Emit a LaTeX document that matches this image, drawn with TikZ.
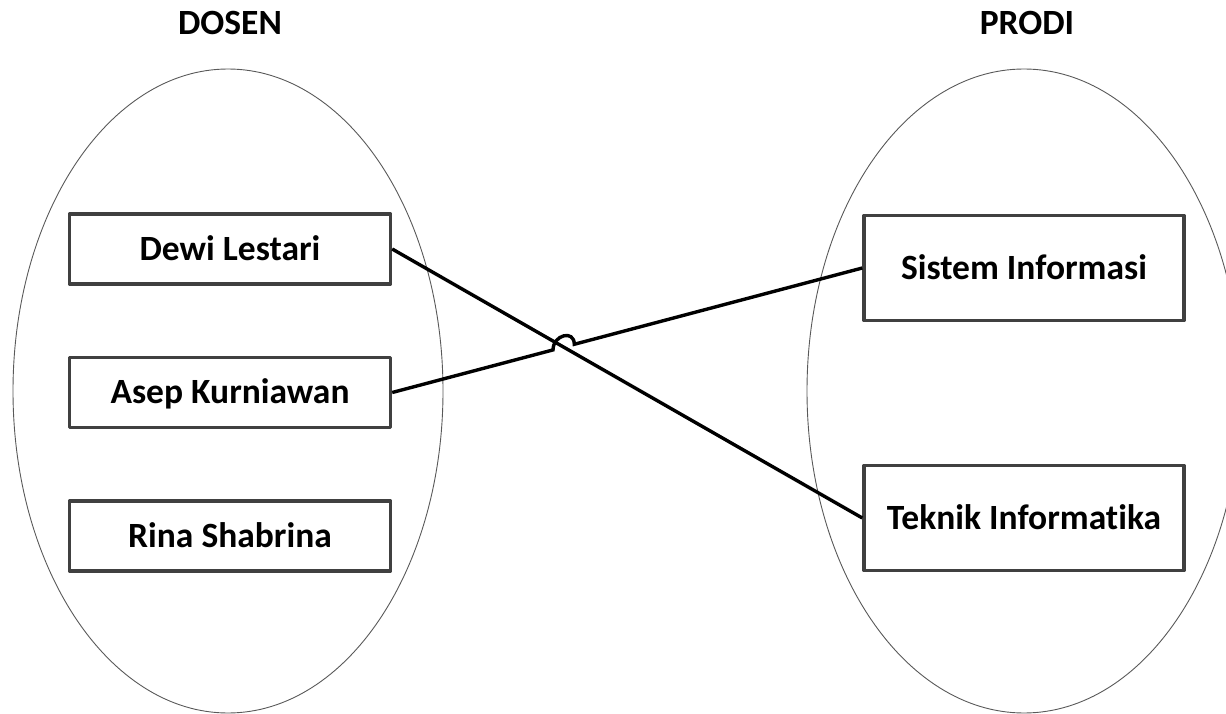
\documentclass[tikz,border=0pt]{standalone}
\usepackage{fontspec}
\setmainfont{Carlito}[Ligatures={NoCommon}]
\usetikzlibrary{calc}
\begin{document}
\begin{tikzpicture}[x=1pt,y=-1pt,
  setellipse/.style={draw=black!65, line width=0.9pt},
  item/.style={draw=black!75, line width=3.4pt, line join=round, fill=white,
    minimum width=321pt, minimum height=70pt, inner sep=0pt,
    text height=22.5pt, text depth=0pt,
    font=\fontsize{35.5}{42}\selectfont\bfseries},
  title/.style={inner sep=0pt, font=\fontsize{35.5}{42}\selectfont\bfseries},
  link/.style={black, line width=3.4pt}]
\useasboundingbox (0,0) rectangle (1226,714);

% the two sets
\draw[setellipse] (228,391) ellipse [x radius=215, y radius=322];
\draw[setellipse] (1024,391) ellipse [x radius=217, y radius=322];

% set titles
\node[title] (dosen) at (230,23) {DOSEN};
\node[title] (prodi) at (1027,23) {PRODI};

% members of DOSEN
\node[item] (dl) at (230,249) {Dewi Lestari};
\node[item] (ak) at (230,392.5) {Asep Kurniawan};
\node[item] (rs) at (230,536) {Rina Shabrina};

% members of PRODI
\node[item, minimum width=320pt, minimum height=105pt] (si) at (1024,268) {Sistem Informasi};
\node[item, minimum width=320pt, minimum height=105pt] (ti) at (1024,518) {Teknik Informatika};

% links, with a hop where they cross
\coordinate (X) at (intersection of dl.east--ti.west and ak.east--si.west);
\coordinate (J1) at ($(X)!11pt!(ak.east)$);
\coordinate (J2) at ($(X)!11pt!(si.west)$);
\draw[link] (dl.east) -- (ti.west);
\draw[link] (ak.east) -- (J1)
  .. controls ($(J1)+(0,-15)$) and ($(J2)+(0,-15)$) .. (J2) -- (si.west);
\end{tikzpicture}
\end{document}
